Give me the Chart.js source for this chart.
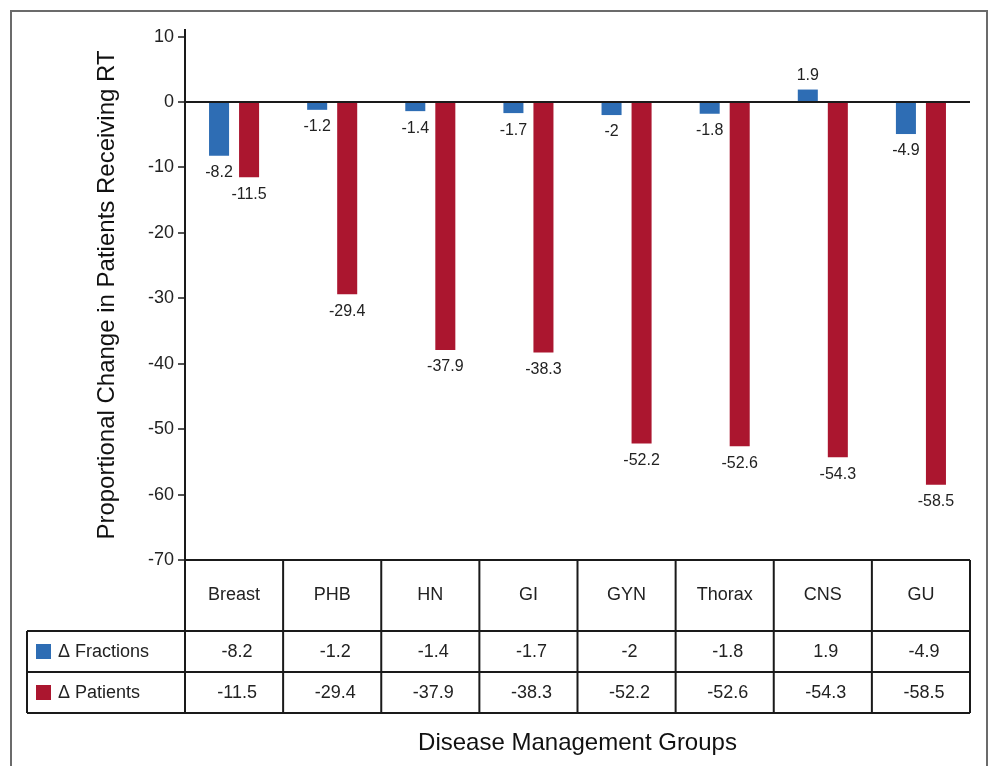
<!DOCTYPE html>
<html>
<head>
<meta charset="utf-8">
<script src="https://cdn.jsdelivr.net/npm/chart.js@4.4.1/dist/chart.umd.min.js"></script>
<style>
  html, body { margin: 0; padding: 0; background: #fff; }
</style>
</head>
<body>
<canvas id="rtChart" width="990" height="766"></canvas>
<script>
// data
const groups = ['Breast', 'PHB', 'HN', 'GI', 'GYN', 'Thorax', 'CNS', 'GU'];
const fractions = [-8.2, -1.2, -1.4, -1.7, -2, -1.8, 1.9, -4.9];
const patients = [-11.5, -29.4, -37.9, -38.3, -52.2, -52.6, -54.3, -58.5];
const seriesNames = ['\u0394 Fractions', '\u0394 Patients'];
const yTicks = [10, 0, -10, -20, -30, -40, -50, -60, -70];
const yMin = -70, yMax = 11;

const BLUE = '#2e6db4';
const RED = '#ab162f';
const FONT = 'Arial, "Liberation Sans", Helvetica, sans-serif';
const NARROW = '"Liberation Sans Narrow", "Arial Narrow", Arial, sans-serif';

// outer frame
const framePlugin = {
    id: 'frame',
    beforeDraw(chart) {
        const ctx = chart.ctx;
        ctx.save();
        ctx.strokeStyle = '#6b6b6b';
        ctx.lineWidth = 2;
        ctx.strokeRect(11, 11, 976, 800);
        ctx.restore();
    }
};

// value labels under / over each bar
const barLabels = {
    id: 'barLabels',
    afterDatasetsDraw(chart) {
        const ctx = chart.ctx;
        ctx.save();
        ctx.font = '16px ' + FONT;
        ctx.fillStyle = '#222';
        ctx.textAlign = 'center';
        chart.data.datasets.forEach((ds, di) => {
            chart.getDatasetMeta(di).data.forEach((bar, i) => {
                const v = ds.data[i];
                if (v < 0) {
                    ctx.textBaseline = 'top';
                    ctx.fillText(String(v), bar.x, bar.y + 9);
                } else {
                    ctx.textBaseline = 'bottom';
                    ctx.fillText(String(v), bar.x, bar.y - 6);
                }
            });
        });
        ctx.restore();
    }
};

// data table under the plot + x axis title
const dataTable = {
    id: 'dataTable',
    afterDraw(chart) {
        const ctx = chart.ctx;
        const ca = chart.chartArea;
        const colW = (ca.right - ca.left) / groups.length;
        const legLeft = 27;
        const top = ca.bottom;
        const r1 = top + 71, r2 = r1 + 41, r3 = r2 + 41;

        ctx.save();
        ctx.strokeStyle = '#1a1a1a';
        ctx.lineWidth = 2;
        ctx.beginPath();
        ctx.moveTo(ca.left, top); ctx.lineTo(ca.right, top);
        [r1, r2, r3].forEach(y => { ctx.moveTo(legLeft, y); ctx.lineTo(ca.right, y); });
        for (let i = 0; i <= groups.length; i++) {
            const x = ca.left + i * colW;
            ctx.moveTo(x, top); ctx.lineTo(x, r3);
        }
        ctx.moveTo(legLeft, r1); ctx.lineTo(legLeft, r3);
        ctx.stroke();

        ctx.fillStyle = '#222';
        ctx.textAlign = 'center';
        ctx.textBaseline = 'middle';
        ctx.font = '18px ' + FONT;
        groups.forEach((g, i) => {
            const cx = chart.scales.x.getPixelForValue(i);
            ctx.fillText(g, cx, (top + r1) / 2);
            ctx.fillText(String(fractions[i]), cx + 3, (r1 + r2) / 2 + 1);
            ctx.fillText(String(patients[i]), cx + 3, (r2 + r3) / 2 + 1);
        });

        // legend cells
        const rows = [[r1, r2], [r2, r3]];
        chart.data.datasets.forEach((ds, di) => {
            const cy = (rows[di][0] + rows[di][1]) / 2;
            ctx.fillStyle = ds.backgroundColor;
            ctx.fillRect(36, cy - 7.5, 15, 15);
            ctx.fillStyle = '#222';
            ctx.textAlign = 'left';
            ctx.fillText(ds.label, 58, cy + 1);
        });

        // x axis title
        ctx.font = '24px ' + NARROW;
        ctx.fillStyle = '#111';
        ctx.textAlign = 'center';
        ctx.fillText('Disease Management Groups', (ca.left + ca.right) / 2, 743);
        ctx.restore();
    }
};

const ctx = document.getElementById('rtChart').getContext('2d');
const chart = new Chart(ctx, {
    type: 'bar',
    data: {
        labels: groups,
        datasets: [{
            label: seriesNames[0],
            backgroundColor: BLUE,
            data: fractions
        }, {
            label: seriesNames[1],
            backgroundColor: RED,
            data: patients
        }]
    },
    options: {
        responsive: false,
        animation: false,
        devicePixelRatio: 1,
        categoryPercentage: 0.612,
        barPercentage: 0.667,
        layout: { padding: { left: 88, right: 20, top: 30, bottom: 206 } },
        plugins: {
            legend: { display: false },
            tooltip: { enabled: false }
        },
        scales: {
            x: { display: false, offset: true },
            y: {
                min: yMin,
                max: yMax,
                afterBuildTicks: s => { s.ticks = yTicks.map(v => ({ value: v })); },
                afterFit: s => { s.width = 97; },
                border: { display: true, color: '#1a1a1a', width: 2 },
                grid: {
                    drawOnChartArea: true,
                    color: c => (c.tick && c.tick.value === 0) ? '#1a1a1a' : 'rgba(0,0,0,0)',
                    lineWidth: 2,
                    tickLength: 7,
                    tickColor: '#1a1a1a',
                    tickWidth: 1.5
                },
                ticks: { color: '#222', padding: 4, font: { size: 18, family: FONT } },
                title: {
                    display: true,
                    text: 'Proportional Change in Patients Receiving RT',
                    color: '#111',
                    font: { size: 24, family: NARROW },
                    padding: { top: 5, bottom: 0 }
                }
            }
        }
    },
    plugins: [framePlugin, barLabels, dataTable]
});
</script>
</body>
</html>
